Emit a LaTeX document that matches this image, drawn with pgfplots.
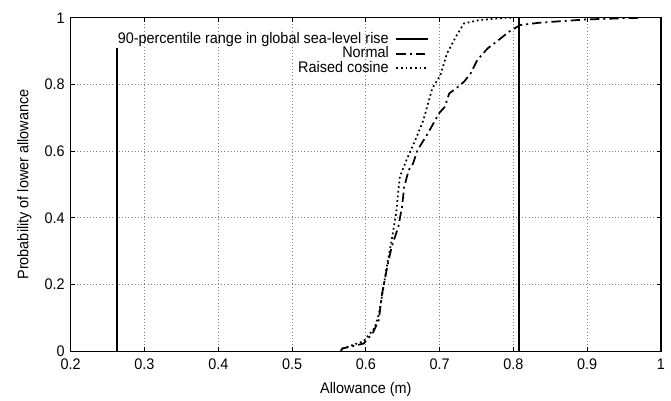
\documentclass[border=0pt]{standalone}
\usepackage{fontspec}
\setmainfont{Liberation Sans}[FakeStretch=0.94]
\usepackage{pgfplots}
\pgfplotsset{compat=1.18}
\usetikzlibrary{calc}

\begin{document}
\begin{tikzpicture}[font=\fontsize{11.5}{13.5}\selectfont]
\begin{axis}[
    name=ax,
    scale only axis,
    width=442.5pt, height=250pt,
    xmin=0.2, xmax=1, ymin=0, ymax=1,
    xtick={0.2,0.3,...,1.0},
    ytick={0,0.2,...,1.0},
    xticklabels={0.2,0.3,0.4,0.5,0.6,0.7,0.8,0.9,1},
    yticklabels={0,0.2,0.4,0.6,0.8,1},
    tick align=inside,
    major tick length=3pt,
    tick style={black, line width=0.8pt},
    axis line style={black, line width=0.8pt},
    grid=major,
    grid style={dotted, gray, line width=0.6pt},
    xlabel={Allowance (m)},
    ylabel={Probability of lower allowance},
    xticklabel style={yshift=-2pt},
    yticklabel style={xshift=-1pt},
    xlabel style={yshift=-3pt},
    ylabel style={yshift=3pt},
    /pgf/number format/assume math mode=true,
    legend style={at={(axis cs:0.686,0.956)}, anchor=north east,
        draw=none, fill=none, row sep=0.8pt, column sep=5pt, inner sep=0pt,
        nodes={inner sep=0pt, text height=8pt, text depth=2pt}},
    legend cell align=right,
    legend plot pos=right,
    legend image post style={xscale=1.4},
]
% 90-percentile range (vertical bounds)
\addplot[black, line width=1.3pt] coordinates {(0.263,0) (0.263,0.908)};
\addlegendentry{90-percentile range in global sea-level rise}
% Normal
\addplot[black, line width=1.3pt, dash pattern=on 7pt off 3pt on 1.5pt off 3pt] coordinates {
    (0.566,0) (0.568,0.008) (0.597,0.023) (0.609,0.053) (0.6175,0.093)
    (0.622,0.173) (0.629,0.253) (0.635,0.313) (0.644,0.373) (0.649,0.433)
    (0.652,0.493) (0.658,0.543) (0.664,0.563) (0.670,0.603) (0.684,0.653)
    (0.699,0.713) (0.707,0.733) (0.713,0.773) (0.725,0.793) (0.733,0.808)
    (0.742,0.833) (0.751,0.873) (0.765,0.908) (0.777,0.928) (0.794,0.958)
    (0.809,0.978) (0.835,0.985) (0.899,0.995) (0.974,1.0)
};
\addlegendentry{Normal}
% Raised cosine
\addplot[black, line width=1.3pt, dash pattern=on 1.3pt off 2.2pt] coordinates {
    (0.568,0.008) (0.597,0.03) (0.612,0.07) (0.6175,0.11) (0.623,0.18)
    (0.629,0.263) (0.635,0.333) (0.641,0.413) (0.646,0.523) (0.655,0.573)
    (0.667,0.633) (0.678,0.693) (0.690,0.788) (0.701,0.828) (0.710,0.893)
    (0.722,0.943) (0.733,0.983) (0.754,0.993) (0.789,1.0) (0.8,1.0)
};
\addlegendentry{Raised cosine}
\addplot[black, line width=1.3pt, forget plot] coordinates {(0.8075,0) (0.8075,1)};
\end{axis}
\pgfresetboundingbox
\path ($(ax.south west)+(-53pt,-36.8pt)$) rectangle ($(ax.north east)+(7.5pt,13.3pt)$);
\end{tikzpicture}
\end{document}
